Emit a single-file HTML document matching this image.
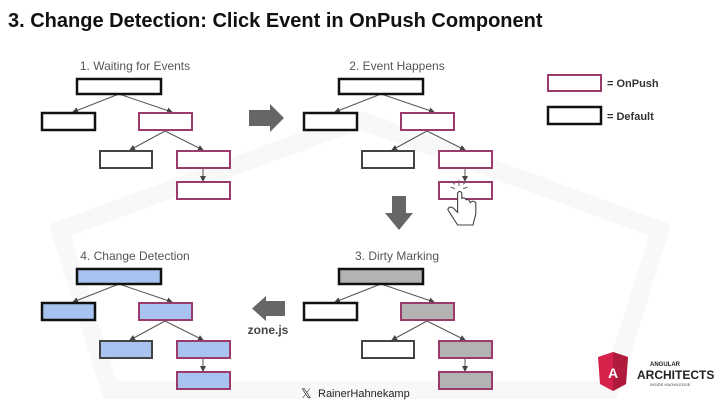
<!DOCTYPE html>
<html><head><meta charset="utf-8"><style>
body{margin:0;background:#fff;}
svg{display:block;font-family:"Liberation Sans",sans-serif;}
</style></head><body>
<svg width="720" height="405" viewBox="0 0 720 405" xmlns="http://www.w3.org/2000/svg">
<defs>
<marker id="ah" markerWidth="6" markerHeight="6" refX="5" refY="3" orient="auto"><path d="M0,0 L6,3 L0,6 z" fill="#444"/></marker>
<g id="lines" stroke="#555" stroke-width="1" fill="none">
<line x1="119" y1="94" x2="73" y2="112" marker-end="url(#ah)"/>
<line x1="119" y1="94" x2="172" y2="112" marker-end="url(#ah)"/>
<line x1="165" y1="131" x2="130" y2="150" marker-end="url(#ah)"/>
<line x1="165" y1="131" x2="203" y2="150" marker-end="url(#ah)"/>
<line x1="203" y1="168" x2="203" y2="181" marker-end="url(#ah)"/>
</g>
</defs>
<!-- faint watermark -->
<path d="M60 230 L360 120 L660 230 L610 390 L110 390 Z" fill="none" stroke="#f8f8f8" stroke-width="18"/>
<text x="8" y="27" font-size="20" font-weight="bold" fill="#111">3. Change Detection: Click Event in OnPush Component</text>

<!-- Tree 1 -->
<g>
<text x="135" y="70" font-size="12" fill="#555" text-anchor="middle">1. Waiting for Events</text>
<use href="#lines"/>
<rect x="77" y="79" width="84" height="15" fill="#fff" stroke="#111" stroke-width="2.5"/>
<rect x="42" y="113" width="53" height="17" fill="#fff" stroke="#111" stroke-width="2.5"/>
<rect x="139" y="113" width="53" height="17" fill="#fff" stroke="#9b3a6b" stroke-width="2"/>
<rect x="100" y="151" width="52" height="17" fill="#fff" stroke="#444" stroke-width="2"/>
<rect x="177" y="151" width="53" height="17" fill="#fff" stroke="#9b3a6b" stroke-width="2"/>
<rect x="177" y="182" width="53" height="17" fill="#fff" stroke="#9b3a6b" stroke-width="2"/>
</g>
<!-- Tree 2 -->
<g transform="translate(262,0)">
<text x="135" y="70" font-size="12" fill="#555" text-anchor="middle">2. Event Happens</text>
<use href="#lines"/>
<rect x="77" y="79" width="84" height="15" fill="#fff" stroke="#111" stroke-width="2.5"/>
<rect x="42" y="113" width="53" height="17" fill="#fff" stroke="#111" stroke-width="2.5"/>
<rect x="139" y="113" width="53" height="17" fill="#fff" stroke="#9b3a6b" stroke-width="2"/>
<rect x="100" y="151" width="52" height="17" fill="#fff" stroke="#444" stroke-width="2"/>
<rect x="177" y="151" width="53" height="17" fill="#fff" stroke="#9b3a6b" stroke-width="2"/>
<rect x="177" y="182" width="53" height="17" fill="#fff" stroke="#9b3a6b" stroke-width="2"/>
<!-- hand -->
<g transform="translate(197,190) scale(1.4) translate(-197,-190)">
<path d="M196 192 L196 206 L193 203 Q190 201 189 204 L196 215 L207 215 L209 207 L209 199 Q207 197 205 199 Q204 196 202 197 Q201 195 199 196 L199 192 Q197.5 190 196 192 Z" fill="#fff" stroke="#444" stroke-width="0.8"/>
<g stroke="#666" stroke-width="0.8"><line x1="197" y1="183" x2="197" y2="187"/><line x1="191" y1="188" x2="194" y2="189"/><line x1="203" y1="188" x2="200" y2="189"/><line x1="192" y1="184" x2="194" y2="186"/><line x1="202" y1="184" x2="200" y2="186"/></g>
</g>
</g>
<!-- Tree 3 -->
<g transform="translate(262,190)">
<text x="135" y="70" font-size="12" fill="#555" text-anchor="middle">3. Dirty Marking</text>
<use href="#lines"/>
<rect x="77" y="79" width="84" height="15" fill="#b3b3b3" stroke="#111" stroke-width="2.5"/>
<rect x="42" y="113" width="53" height="17" fill="#fff" stroke="#111" stroke-width="2.5"/>
<rect x="139" y="113" width="53" height="17" fill="#b3b3b3" stroke="#9b3a6b" stroke-width="2"/>
<rect x="100" y="151" width="52" height="17" fill="#fff" stroke="#444" stroke-width="2"/>
<rect x="177" y="151" width="53" height="17" fill="#b3b3b3" stroke="#9b3a6b" stroke-width="2"/>
<rect x="177" y="182" width="53" height="17" fill="#b3b3b3" stroke="#9b3a6b" stroke-width="2"/>
</g>
<!-- Tree 4 -->
<g transform="translate(0,190)">
<text x="135" y="70" font-size="12" fill="#555" text-anchor="middle">4. Change Detection</text>
<use href="#lines"/>
<rect x="77" y="79" width="84" height="15" fill="#a9c3f0" stroke="#111" stroke-width="2.5"/>
<rect x="42" y="113" width="53" height="17" fill="#a9c3f0" stroke="#111" stroke-width="2.5"/>
<rect x="139" y="113" width="53" height="17" fill="#a9c3f0" stroke="#9b3a6b" stroke-width="2"/>
<rect x="100" y="151" width="52" height="17" fill="#a9c3f0" stroke="#444" stroke-width="2"/>
<rect x="177" y="151" width="53" height="17" fill="#a9c3f0" stroke="#9b3a6b" stroke-width="2"/>
<rect x="177" y="182" width="53" height="17" fill="#a9c3f0" stroke="#9b3a6b" stroke-width="2"/>
</g>
<!-- big arrows -->
<path d="M249 110 L270 110 L270 104 L284 118 L270 132 L270 126 L249 126 Z" fill="#666"/>
<path d="M392 196 L406 196 L406 213 L413 213 L399 230 L385 213 L392 213 Z" fill="#666"/>
<path d="M285 301 L266 301 L266 296 L252 308.5 L266 321 L266 316 L285 316 Z" fill="#666"/>
<text x="268" y="334" font-size="12" font-weight="bold" fill="#444" text-anchor="middle">zone.js</text>
<!-- legend -->
<rect x="548" y="75" width="53" height="16" fill="#fff" stroke="#9b3a6b" stroke-width="2"/>
<text x="607" y="87" font-size="11" font-weight="bold" fill="#333">= OnPush</text>
<rect x="548" y="107" width="53" height="17" fill="#fff" stroke="#111" stroke-width="2.5"/>
<text x="607" y="120" font-size="11" font-weight="bold" fill="#333">= Default</text>
<!-- footer -->
<text x="301" y="398" font-size="13" fill="#222">𝕏</text>
<text x="318" y="397" font-size="11" fill="#222">RainerHahnekamp</text>
<!-- logo -->
<path d="M613 352 L628 357 L626 384 L613 391 L600 384 L598 357 Z" fill="#d6224b"/>
<path d="M613 352 L628 357 L626 384 L613 391 Z" fill="#b01a3c"/>
<text x="613" y="378" font-size="14" font-weight="bold" fill="#fff" text-anchor="middle">A</text>
<text x="650" y="366" font-size="6" font-weight="bold" fill="#222">ANGULAR</text>
<text x="637" y="379" font-size="12" font-weight="bold" fill="#222">ARCHITECTS</text>
<text x="650" y="386" font-size="4" fill="#444">INSIDE KNOWLEDGE</text>
</svg>
</body></html>
